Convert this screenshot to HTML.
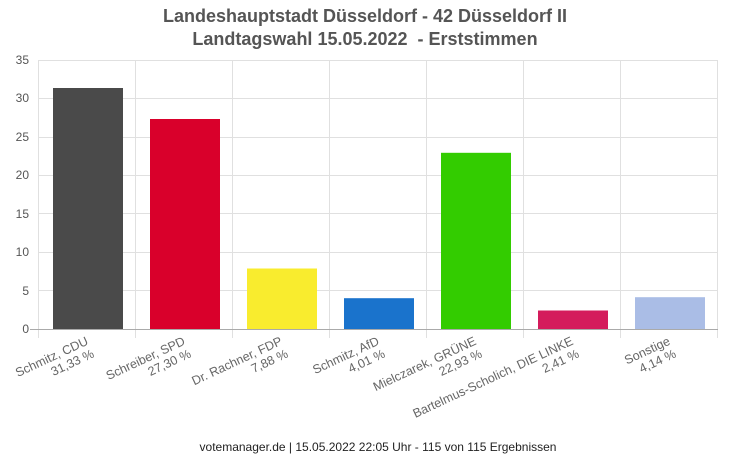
<!DOCTYPE html>
<html><head><meta charset="utf-8"><style>
html,body{margin:0;padding:0;background:#fff;}
svg{display:block;font-family:"Liberation Sans",Arial,sans-serif;}
</style></head><body>
<svg width="731" height="457" viewBox="0 0 731 457" xmlns="http://www.w3.org/2000/svg">
<rect width="731" height="457" fill="#fff"/>
<text x="365" y="22" text-anchor="middle" font-size="18" font-weight="bold" fill="#555">Landeshauptstadt Düsseldorf - 42 Düsseldorf II</text>
<text x="365" y="45" text-anchor="middle" font-size="18" font-weight="bold" fill="#555">Landtagswahl 15.05.2022 &#160;- Erststimmen</text>
<g stroke="#e0e0e0" stroke-width="1">
<line x1="38" y1="60.5" x2="718" y2="60.5"/>
<line x1="38" y1="98.5" x2="718" y2="98.5"/>
<line x1="38" y1="137.5" x2="718" y2="137.5"/>
<line x1="38" y1="175.5" x2="718" y2="175.5"/>
<line x1="38" y1="213.5" x2="718" y2="213.5"/>
<line x1="38" y1="252.5" x2="718" y2="252.5"/>
<line x1="38" y1="290.5" x2="718" y2="290.5"/>
<line x1="38.5" y1="60" x2="38.5" y2="338"/>
<line x1="135.5" y1="60" x2="135.5" y2="338"/>
<line x1="232.5" y1="60" x2="232.5" y2="338"/>
<line x1="329.5" y1="60" x2="329.5" y2="338"/>
<line x1="426.5" y1="60" x2="426.5" y2="338"/>
<line x1="523.5" y1="60" x2="523.5" y2="338"/>
<line x1="620.5" y1="60" x2="620.5" y2="338"/>
<line x1="717.5" y1="60" x2="717.5" y2="338"/>
</g>
<g stroke="#aaa"><line x1="30" y1="329.5" x2="718" y2="329.5"/></g>
<g font-size="12" fill="#555" text-anchor="end">
<text x="29" y="333">0</text><text x="29" y="295">5</text><text x="29" y="256">10</text>
<text x="29" y="218">15</text><text x="29" y="179">20</text><text x="29" y="141">25</text><text x="29" y="102">30</text><text x="29" y="64">35</text>
</g>
<rect x="53" y="88" width="70" height="241" fill="#4a4a4a"/>
<rect x="150" y="119" width="70" height="210" fill="#d9002b"/>
<rect x="247" y="268.5" width="70" height="60.5" fill="#f9ec2e"/>
<rect x="344" y="298.2" width="70" height="30.8" fill="#1a73cc"/>
<rect x="441" y="152.8" width="70" height="176.2" fill="#33cc00"/>
<rect x="538" y="310.5" width="70" height="18.5" fill="#d41c5c"/>
<rect x="635" y="297.2" width="70" height="31.8" fill="#aabde6"/>
<g font-size="12.5" fill="#666" text-anchor="end">
<g transform="translate(89,344) rotate(-25)"><text x="0" y="0">Schmitz, CDU</text><text x="0" y="14">31,33 %</text></g>
<g transform="translate(186,344) rotate(-25)"><text x="0" y="0">Schreiber, SPD</text><text x="0" y="14">27,30 %</text></g>
<g transform="translate(283,344) rotate(-25)"><text x="0" y="0">Dr. Rachner, FDP</text><text x="0" y="14">7,88 %</text></g>
<g transform="translate(380,344) rotate(-25)"><text x="0" y="0">Schmitz, AfD</text><text x="0" y="14">4,01 %</text></g>
<g transform="translate(477,344) rotate(-25)"><text x="0" y="0">Mielczarek, GRÜNE</text><text x="0" y="14">22,93 %</text></g>
<g transform="translate(574,344) rotate(-25)"><text x="0" y="0">Bartelmus-Scholich, DIE LINKE</text><text x="0" y="14">2,41 %</text></g>
<g transform="translate(671,344) rotate(-25)"><text x="0" y="0">Sonstige</text><text x="0" y="14">4,14 %</text></g>
</g>
<text x="378" y="451" text-anchor="middle" font-size="12" fill="#222">votemanager.de | 15.05.2022 22:05 Uhr - 115 von 115 Ergebnissen</text>
</svg>
</body></html>
